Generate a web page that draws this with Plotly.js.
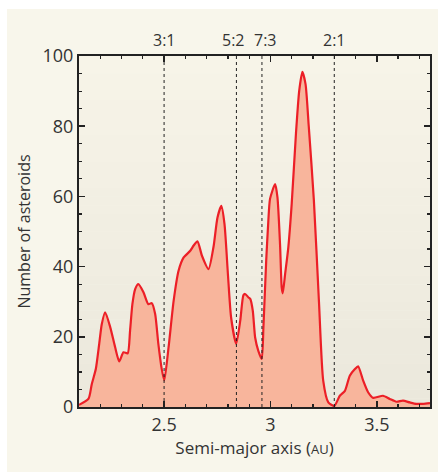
<!DOCTYPE html>
<html>
<head>
<meta charset="utf-8">
<script src="https://cdn.plot.ly/plotly-3.0.1.min.js"></script>
<style>
html,body{margin:0;padding:0;background:#ffffff;}
#chart{position:absolute;left:7px;top:9px;width:431px;height:463px;}
</style>
</head>
<body>
<div id="chart"></div>
<script>
// Semi-major axis (AU) and number of asteroids
var semiMajorAxis = [2.100,2.145,2.160,2.179,2.195,2.207,2.223,2.247,2.270,2.289,2.309,2.329,2.340,2.351,2.364,2.379,2.403,2.426,2.442,2.458,2.473,2.489,2.501,2.521,2.545,2.568,2.592,2.623,2.639,2.657,2.678,2.709,2.732,2.751,2.769,2.784,2.800,2.815,2.839,2.858,2.873,2.881,2.897,2.905,2.917,2.928,2.943,2.959,2.967,2.980,2.990,2.998,3.022,3.033,3.045,3.053,3.058,3.069,3.084,3.100,3.120,3.135,3.150,3.165,3.180,3.204,3.228,3.248,3.272,3.300,3.326,3.350,3.373,3.397,3.412,3.436,3.459,3.483,3.529,3.561,3.592,3.623,3.655,3.686,3.717,3.750];
var asteroidCount = [0.6,2.4,6.5,10.8,18.0,23.6,27.0,22.7,17.0,13.0,15.6,15.3,21.7,29.3,33.6,35.0,32.7,29.3,29.6,26.5,18.0,10.8,7.6,17.0,30.3,38.8,42.6,44.5,46.0,47.2,43.1,39.3,45.5,54.0,57.3,52.1,37.9,25.5,18.0,24.6,31.9,32.2,31.2,30.8,27.4,19.8,16.0,13.7,22.7,41.7,53.0,59.3,63.5,59.7,46.4,34.0,32.4,37.9,45.5,58.0,78.0,90.0,95.5,92.0,80.0,59.0,30.0,7.5,1.3,0.3,3.2,4.6,8.9,10.8,11.6,7.5,4.2,2.6,3.2,2.3,1.5,1.8,1.3,0.9,0.9,1.1];
var resonanceLabels = ["3:1","5:2","7:3","2:1"];
var resonancePositions = [2.50,2.84,2.96,3.30];
var xTickVals = [2.5,3,3.5];
var xTickText = ["2.5","3","3.5"];
var yTickVals = [0,20,40,60,80,100];

var FONT = "'Open Sans', 'Noto Sans', sans-serif";
var labelShift = [0, -3, 4, 0];

var trace = {
  x: semiMajorAxis, y: asteroidCount,
  type: "scatter", mode: "lines",
  line: {color: "#ec1f27", width: 2.2, shape: "spline", smoothing: 0.6},
  fill: "tozeroy", fillcolor: "#f8b59c",
  hoverinfo: "skip"
};

var shapes = [];
// stepped background gradient for plot area
var nb = 40;
for (var i = 0; i < nb; i++) {
  var t = i / (nb - 1);
  var r = Math.round(0xf7 + (0xeb - 0xf7) * t);
  var g = Math.round(0xf4 + (0xe8 - 0xf4) * t);
  var b = Math.round(0xe8 + (0xdc - 0xe8) * t);
  shapes.push({type: "rect", xref: "paper", yref: "paper", x0: 0, x1: 1,
    y1: 1 - i / nb, y0: 1 - (i + 1) / nb - 0.001, layer: "below",
    line: {width: 0}, fillcolor: "rgb(" + r + "," + g + "," + b + ")"});
}
var annotations = [];
for (var k = 0; k < resonancePositions.length; k++) {
  shapes.push({type: "line", xref: "x", yref: "y", x0: resonancePositions[k], x1: resonancePositions[k],
    y0: 0, y1: 100, layer: "above", line: {color: "#222222", width: 1, dash: "dot"}});
  annotations.push({x: resonancePositions[k], xref: "x", y: 1, yref: "paper", yanchor: "bottom", yshift: 3,
    xshift: labelShift[k],
    text: resonanceLabels[k], showarrow: false, font: {family: FONT, size: 16, color: "#333333"}});
}

var layout = {
  width: 431, height: 463,
  margin: {l: 72, r: 8, t: 47, b: 65},
  paper_bgcolor: "#f8f6eb",
  plot_bgcolor: "rgba(0,0,0,0)",
  showlegend: false,
  font: {family: FONT, color: "#333333"},
  xaxis: {
    range: [2.1, 3.75], tickvals: xTickVals, ticktext: xTickText,
    ticks: "inside", ticklen: 6, tickwidth: 1.5, tickcolor: "#222",
    showline: true, linecolor: "#222", linewidth: 2, mirror: "allticks",
    showgrid: false, zeroline: false,
    minor: {dtick: 0.1, tick0: 2.1, ticks: "inside", ticklen: 3, tickwidth: 1.2, tickcolor: "#222", showgrid: false},
    tickfont: {family: FONT, size: 18, color: "#333"},
    title: {text: "Semi-major axis (<span style='font-size:13px'>AU</span>)", font: {family: FONT, size: 17, color: "#333"}, standoff: 6}
  },
  yaxis: {
    range: [0, 100], tickvals: yTickVals,
    ticks: "inside", ticklen: 6, tickwidth: 1.5, tickcolor: "#222",
    showline: true, linecolor: "#222", linewidth: 2, mirror: "allticks",
    showgrid: false, zeroline: false,
    minor: {dtick: 5, ticks: "inside", ticklen: 3, tickwidth: 1.2, tickcolor: "#222", showgrid: false},
    tickfont: {family: FONT, size: 18, color: "#333"},
    title: {text: "Number of asteroids", font: {family: FONT, size: 16, color: "#333"}, standoff: 8}
  },
  shapes: shapes,
  annotations: annotations
};

Plotly.newPlot("chart", [trace], layout, {displayModeBar: false, staticPlot: true});
</script>
</body>
</html>
